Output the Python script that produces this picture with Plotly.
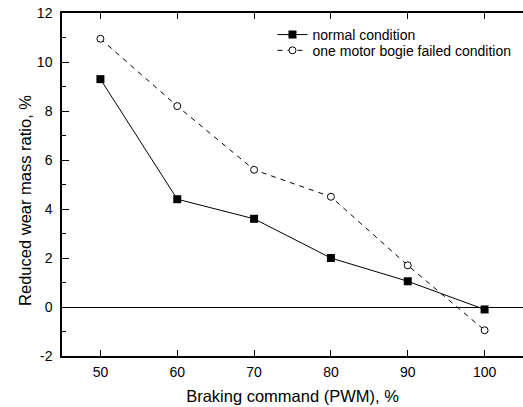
import plotly.graph_objects as go

pwm = [50, 60, 70, 80, 90, 100]
normal = [9.3, 4.4, 3.6, 2.0, 1.05, -0.1]
failed = [10.95, 8.2, 5.6, 4.5, 1.7, -0.95]
x_ticks = [50, 60, 70, 80, 90, 100]
y_ticks = [-2, 0, 2, 4, 6, 8, 10, 12]
y_ticktext = ["-2", "0", "2", "4", "6", "8", "10", "12"]
y_minor = [-1, 1, 3, 5, 7, 9, 11]

FONT = "Liberation Sans, Arial, sans-serif"

fig = go.Figure()
fig.add_trace(go.Scatter(
    x=pwm, y=normal, mode="lines+markers", name="normal condition",
    line=dict(color="black", width=1),
    marker=dict(symbol="square", size=8, color="black"),
    legend="legend",
))
fig.add_trace(go.Scatter(
    x=pwm, y=failed, mode="lines+markers", name="one motor bogie failed condition",
    line=dict(color="black", width=1, dash="5px,5px"),
    marker=dict(symbol="circle", size=7, color="white", line=dict(width=1, color="black")),
    legend="legend2",
))

leg_common = dict(xanchor="left", yanchor="middle", bgcolor="rgba(0,0,0,0)",
                  font=dict(size=14), itemwidth=30)

fig.update_layout(
    width=523, height=407,
    margin=dict(l=62, r=0, t=13, b=51),
    plot_bgcolor="white", paper_bgcolor="white",
    font=dict(family=FONT, size=14, color="black"),
    showlegend=True,
    legend=dict(x=0.4566, y=0.936, **leg_common),
    legend2=dict(x=0.4566, y=0.890, **leg_common),
    xaxis=dict(
        range=[45, 105], tickvals=x_ticks, ticks="inside", ticklen=6,
        tickcolor="black", showline=True, linecolor="black", linewidth=1.5,
        mirror="ticks", showgrid=False, zeroline=False, ticklabelstandoff=2,
        title=dict(text="Braking command (PWM), %", font=dict(size=16.5), standoff=12),
    ),
    yaxis=dict(
        range=[-2, 12], tickvals=y_ticks, ticktext=y_ticktext, ticks="inside", ticklen=7,
        tickcolor="black", showline=True, linecolor="black", linewidth=1.5,
        mirror=False, showgrid=False, zeroline=True, zerolinecolor="black",
        zerolinewidth=1, ticklabelstandoff=5,
        minor=dict(tickvals=y_minor, ticks="inside", ticklen=4,
                   tickcolor="black", showgrid=False),
    ),
    annotations=[dict(
        text="Reduced wear mass ratio, %", textangle=-90, showarrow=False,
        xref="paper", yref="paper", x=-0.0803, y=0.455,
        xanchor="center", yanchor="middle", font=dict(size=16.5),
    )],
)

fig.write_html("out.html", config={"displayModeBar": False},
               post_script="document.body.style.margin='0px';")
